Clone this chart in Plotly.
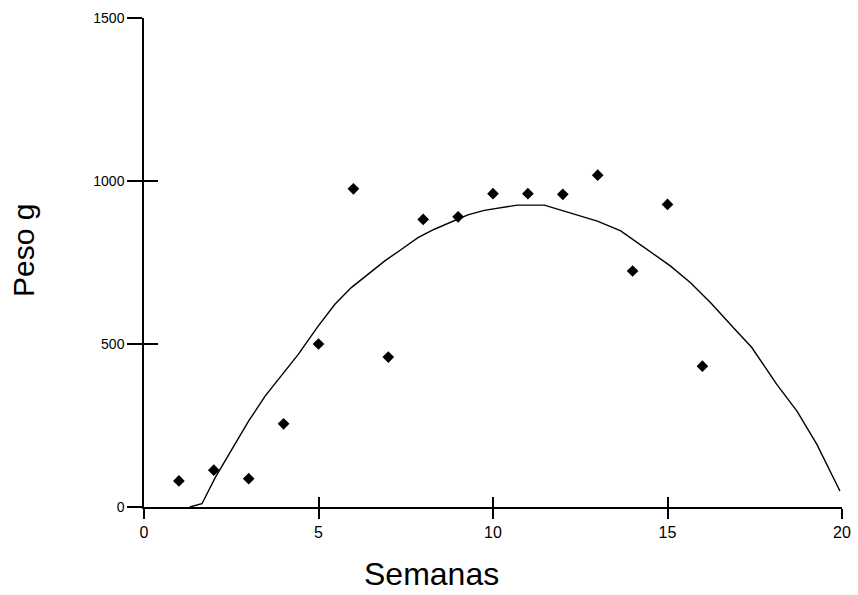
import plotly.graph_objects as go

# Observed data (weeks vs weight in g)
semanas = [1, 2, 3, 4, 5, 6, 7, 8, 9, 10, 11, 12, 13, 14, 15, 16]
peso = [80, 113, 87, 255, 500, 976, 460, 882, 890, 961, 961, 959, 1018, 724, 928, 432]

# Fitted curve
curva_x = [1.31, 1.66, 2.04, 2.51, 3.0, 3.47, 3.94, 4.42, 4.99, 5.47, 5.94, 6.42, 6.9,
           7.37, 7.85, 8.32, 8.8, 9.28, 9.75, 10.23, 10.7, 11.47, 12.04, 12.99, 13.66,
           14.42, 15.09, 15.66, 16.23, 16.89, 17.41, 18.13, 18.71, 19.28, 19.94]
curva_y = [0, 10, 90, 177, 264, 340, 402, 468, 555, 622, 673, 714, 755,
           790, 826, 852, 875, 896, 910, 918, 926, 926, 908, 877, 847,
           790, 739, 688, 627, 550, 490, 376, 294, 192, 49]

x_ticks = [0, 5, 10, 15, 20]
y_ticks = [0, 500, 1000, 1500]

FONT = "Liberation Sans, Arial, sans-serif"

fig = go.Figure()
# curve on the overlay axes (inside ticks), markers on the main axes (outside ticks)
fig.add_trace(go.Scatter(x=curva_x, y=curva_y, mode="lines", xaxis="x2", yaxis="y2",
                         line=dict(color="black", width=1.4), showlegend=False,
                         hoverinfo="skip"))
fig.add_trace(go.Scatter(x=semanas, y=peso, mode="markers",
                         marker=dict(symbol="diamond", size=9, color="black"),
                         showlegend=False))

axis_common = dict(showgrid=False, zeroline=False, color="black", automargin=False)

fig.update_layout(
    width=858, height=595,
    margin=dict(l=144, r=16, t=18, b=88),
    plot_bgcolor="white", paper_bgcolor="white",
    font=dict(family=FONT, color="black", size=14),
    xaxis=dict(range=[0, 20], tickvals=x_ticks, ticks="outside", ticklen=10,
               tickwidth=1.5, tickcolor="black", showline=True, linecolor="black",
               linewidth=1.5, tickfont=dict(size=16, family=FONT, color="black"),
               **axis_common),
    xaxis2=dict(range=[0, 20], tickvals=x_ticks, ticks="inside", ticklen=10,
                tickwidth=1.5, tickcolor="black", showticklabels=False,
                overlaying="x", side="bottom", anchor="y2", showline=False,
                **axis_common),
    yaxis=dict(range=[0, 1500], tickvals=y_ticks, ticks="outside", ticklen=15,
               tickwidth=1.5, tickcolor="black", showline=True, linecolor="black",
               linewidth=1.5, tickfont=dict(size=14, family=FONT, color="black"),
               **axis_common),
    yaxis2=dict(range=[0, 1500], tickvals=y_ticks, ticks="inside", ticklen=14,
                tickwidth=1.5, tickcolor="black", showticklabels=False,
                overlaying="y", side="left", anchor="x2", showline=False,
                **axis_common),
    annotations=[
        dict(text="Semanas", xref="paper", yref="paper", x=0.4126, y=-0.137,
             xanchor="center", yanchor="middle", showarrow=False,
             font=dict(size=32, family=FONT, color="black")),
        dict(text="Peso g", xref="paper", yref="paper", x=-0.172, y=0.5256,
             xanchor="center", yanchor="middle", showarrow=False, textangle=-90,
             font=dict(size=30, family=FONT, color="black")),
    ],
)

fig.write_html("out.html", config={"displayModeBar": False},
               post_script="document.body.style.margin='0';")
